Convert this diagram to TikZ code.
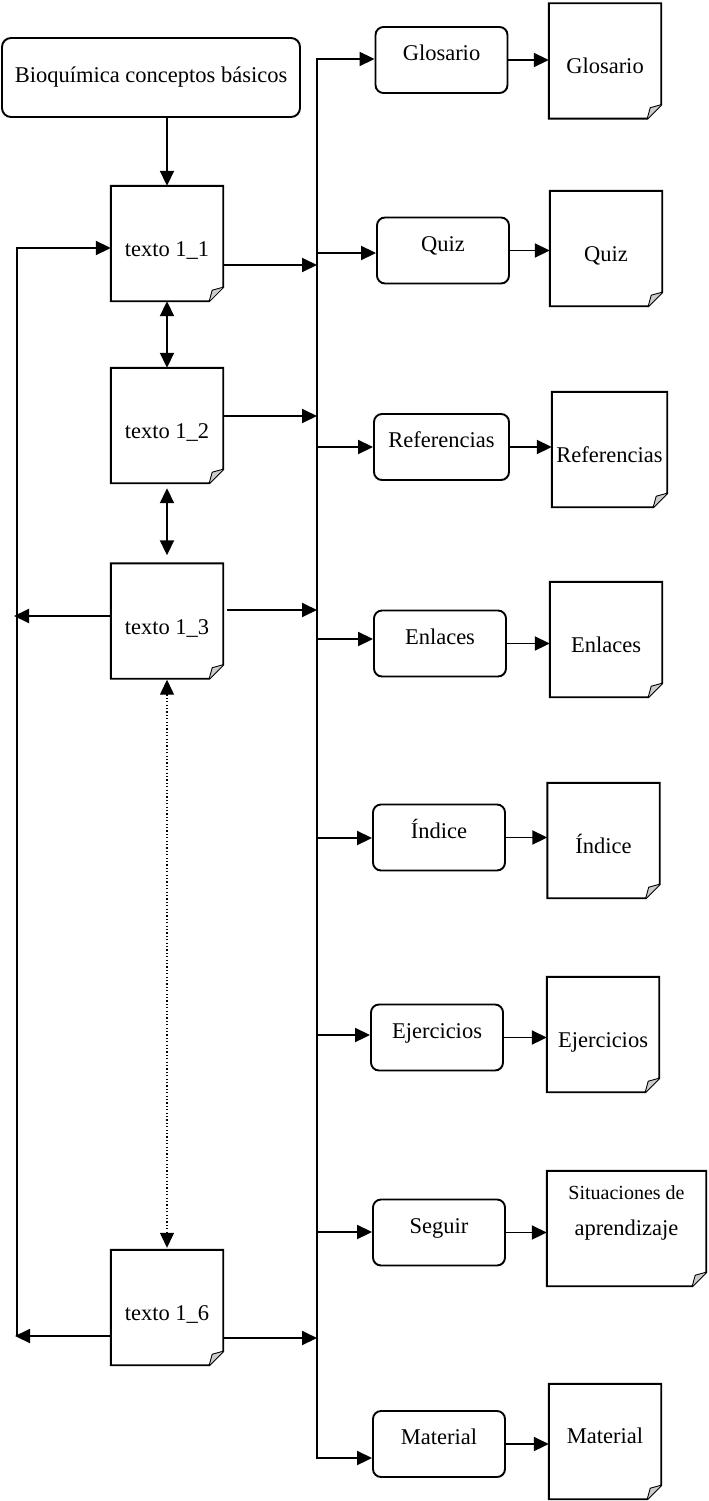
\documentclass[tikz,border=0pt]{standalone}
\usepackage{fontspec}
\setmainfont{Liberation Serif}
\usetikzlibrary{arrows.meta}
\begin{document}
\begin{tikzpicture}[x=1pt,y=-1pt,
  line/.style={line width=1.9pt},
  arr/.style={line width=1.9pt,-{Triangle[length=15pt,width=14pt]}},
  dbl/.style={line width=1.9pt,{Triangle[length=15pt,width=14pt]}-{Triangle[length=15pt,width=14pt]}},
  dotarr/.style={line width=1.2pt,dash pattern=on 1.2pt off 2.2pt,{Triangle[length=15pt,width=14pt]}-{Triangle[length=15pt,width=14pt]}},
  every node/.style={font=\fontsize{22.5}{27}\selectfont,inner sep=0pt},
  topbox/.style={draw,line width=1.9pt,rounded corners=9pt,minimum width=298pt,minimum height=79pt,text height=15.5pt,text depth=5pt},
  procbox/.style={draw,line width=1.9pt,rounded corners=8pt,minimum width=132pt,minimum height=66pt,text height=15pt,text depth=14pt},
  docbox/.style={minimum width=112pt,minimum height=115pt,text height=31pt,text depth=5pt},
]
\useasboundingbox (0,0) rectangle (709,1501);

% left column
\node[topbox] (top) at (151,77.5) {Bioquímica conceptos básicos};
\node[docbox] (t1) at (167,243.5) {texto 1\_1};
\node[docbox] (t2) at (167,425.5) {texto 1\_2};
\node[docbox] (t3) at (167,621) {texto 1\_3};
\node[docbox] (t6) at (167,1307.5) {texto 1\_6};

% process boxes
\node[procbox] (pG) at (441.5,60) {Glosario};
\node[procbox] (pQ) at (443,250.5) {Quiz};
\node[procbox,minimum width=135pt] (pR) at (441.5,447) {Referencias};
\node[procbox] (pE) at (440,643.5) {Enlaces};
\node[procbox] (pI) at (439,837.5) {Índice};
\node[procbox] (pEj) at (437,1037.5) {Ejercicios};
\node[procbox] (pS) at (439,1232.5) {Seguir};
\node[procbox] (pM) at (439,1444) {Material};

% documents
\node[docbox] (dG) at (605,61) {Glosario};
\node[docbox] (dQ) at (606,248.5) {Quiz};
\node[docbox,minimum width=115pt] (dR) at (609.5,449.5) {Referencias};
\node[docbox] (dE) at (606,639.5) {Enlaces};
\node[docbox] (dI) at (603.5,840.5) {Índice};
\node[docbox] (dEj) at (603,1034.5) {Ejercicios};
\node[docbox,minimum width=159pt,text height=10pt,text depth=67.8pt] (dS) at (626.5,1228.5)
  {\begin{tabular}[t]{@{}c@{}}{\fontsize{20}{24}\selectfont Situaciones de}\\[8.6pt] aprendizaje\end{tabular}};
\node[docbox,text height=15pt,text depth=11.6pt] (dM) at (605,1441.5) {Material};

% document outlines with folded corner
\foreach \n in {t1,t2,t3,t6,dG,dQ,dR,dE,dI,dEj,dS,dM}{
  \draw[line,line join=miter] (\n.north west) -- (\n.north east) -- ([yshift=14pt]\n.south east)
     -- ([xshift=-14pt]\n.south east) -- (\n.south west) -- cycle;
  \draw[line width=0.9pt,fill=gray!40] ([xshift=-14pt]\n.south east) -- ([xshift=-11pt,yshift=11pt]\n.south east)
     -- ([yshift=14pt]\n.south east);
}

% coordinates
\coordinate (bG) at (317,59);
\coordinate (bQ) at (317,253);
\coordinate (bR) at (317,447);
\coordinate (bE) at (317,639);
\coordinate (bI) at (317,838);
\coordinate (bEj) at (317,1035);
\coordinate (bS) at (317,1232);
\coordinate (bM) at (317,1458);
\coordinate (b1) at (317,265);
\coordinate (b2) at (317,416);
\coordinate (b3) at (317,610);
\coordinate (b6) at (317,1338);
\coordinate (l1) at (17,248);
\coordinate (l3) at (17,616);
\coordinate (l6) at (17,1336);

% vertical chain
\draw[arr] (top.south -| t1.north) -- (t1.north);
\draw[dbl] (t1.south) -- (t2.north);
\draw[dbl,shorten <=5pt,shorten >=8pt] (t2.south) -- (t3.north);
\draw[dotarr,shorten <=1pt,shorten >=2pt] (t3.south) -- (t6.north);

% bus
\draw[arr] ([yshift=0.95pt]bG) -- (bM) -- (bM -| pM.west);
\foreach \b/\p in {bG/pG,bQ/pQ,bR/pR,bE/pE,bI/pI,bEj/pEj,bS/pS}{
  \draw[arr] (\b) -- (\b -| \p.west);
}
\foreach \p/\d in {pG/dG,pQ/dQ,pR/dR,pE/dE,pI/dI,pEj/dEj,pS/dS,pM/dM}{
  \draw[arr] (\p.east) -- (\p.east -| \d.west);
}

% texts to bus
\draw[arr] (b1 -| t1.east) -- (b1);
\draw[arr] (b2 -| t2.east) -- (b2);
\draw[arr] ([xshift=4pt]b3 -| t3.east) -- (b3);
\draw[arr] (b6 -| t6.east) -- (b6);

% left loop
\draw[arr] (l6) -- (l1) -- (l1 -| t1.west);
\draw[arr] (l3 -| t3.west) -- ([xshift=-3pt]l3);
\draw[arr] (l6 -| t6.west) -- ([xshift=-2pt]l6);
\end{tikzpicture}
\end{document}
